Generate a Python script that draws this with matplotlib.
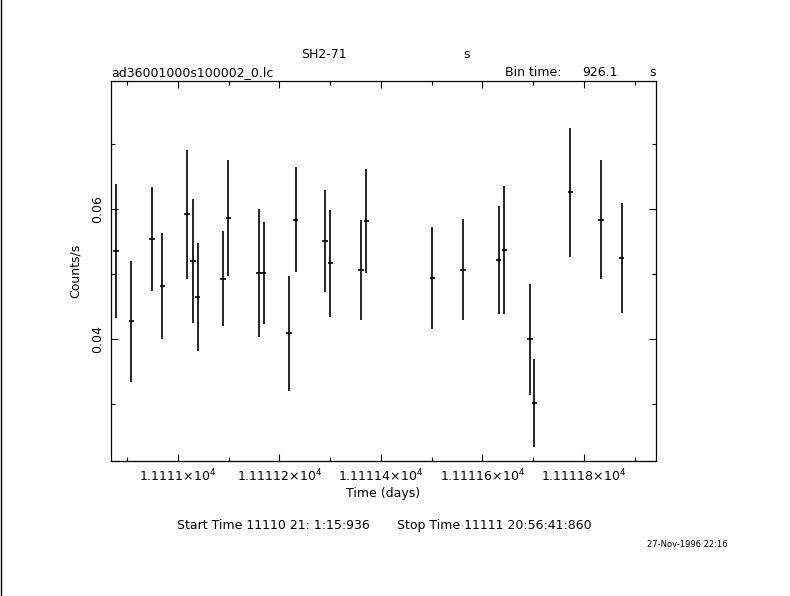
import matplotlib
matplotlib.use('Agg')
import matplotlib.pyplot as plt
from matplotlib.ticker import FixedLocator, MultipleLocator

# light curve values
time_days = [11110.878, 11110.908, 11110.949, 11110.969, 11111.018, 11111.030,
             11111.039, 11111.089, 11111.099, 11111.160, 11111.169, 11111.219,
             11111.232, 11111.290, 11111.300, 11111.361, 11111.371, 11111.501,
             11111.562, 11111.632, 11111.643, 11111.694, 11111.702, 11111.773,
             11111.834, 11111.874]
rate = [0.0536, 0.0428, 0.0554, 0.0482, 0.0592, 0.0520, 0.0465, 0.0493,
        0.0587, 0.0502, 0.0502, 0.0409, 0.0584, 0.0551, 0.0517, 0.0507,
        0.0582, 0.0494, 0.0507, 0.0522, 0.0537, 0.0400, 0.0302, 0.0626,
        0.0584, 0.0525]
rate_err = [0.0103, 0.0093, 0.0080, 0.0082, 0.0099, 0.0095, 0.0083, 0.0073,
            0.0089, 0.0098, 0.0079, 0.0088, 0.0081, 0.0078, 0.0082, 0.0077,
            0.0080, 0.0078, 0.0078, 0.0083, 0.0098, 0.0085, 0.0068, 0.0099,
            0.0092, 0.0084]
bin_time = 926.1  # seconds

xticks = [11111.0, 11111.2, 11111.4, 11111.6, 11111.8]
xtick_labels = ['1.1111×10$^{4}$', '1.11112×10$^{4}$', '1.11114×10$^{4}$',
                '1.11116×10$^{4}$', '1.11118×10$^{4}$']
yticks = [0.04, 0.06]
ytick_labels = ['0.04', '0.06']

plt.rcParams['font.family'] = ['DejaVu Sans']
fs = 9

fig = plt.figure(figsize=(7.9, 5.96), dpi=100)
ax = fig.add_axes([0.1405, 0.2265, 0.6899, 0.6376])

half_bin = bin_time / 86400.0 / 2
ax.errorbar(time_days, rate, yerr=rate_err, xerr=half_bin, fmt='none',
            ecolor='black', elinewidth=1.2, capsize=0)

ax.set_xlim(11110.868, 11111.942)
ax.set_ylim(0.0213, 0.0797)

ax.xaxis.set_major_locator(FixedLocator(xticks))
ax.set_xticklabels(xtick_labels)
ax.xaxis.set_minor_locator(MultipleLocator(0.1))
ax.yaxis.set_major_locator(FixedLocator(yticks))
ax.set_yticklabels(ytick_labels, rotation=90, va='center')
ax.yaxis.set_minor_locator(MultipleLocator(0.01))

ax.tick_params(which='both', direction='in', top=True, right=True,
               labelsize=fs, width=0.8)
ax.tick_params(which='major', length=5, pad=5)
ax.tick_params(which='minor', length=3)
for s in ax.spines.values():
    s.set_linewidth(0.9)

ax.set_xlabel('Time (days)', fontsize=fs, labelpad=2)
ax.set_ylabel('Counts/s', fontsize=fs, labelpad=7)

fig.text(0.410, 0.909, 'SH2-71', ha='center', va='center', fontsize=fs)
fig.text(0.590, 0.909, 's', ha='center', va='center', fontsize=fs)
fig.text(0.1405, 0.879, 'ad36001000s100002_0.lc', ha='left', va='center', fontsize=fs)
fig.text(0.639, 0.879, 'Bin time:', ha='left', va='center', fontsize=fs)
fig.text(0.782, 0.879, '926.1', ha='right', va='center', fontsize=fs)
fig.text(0.830, 0.879, 's', ha='right', va='center', fontsize=fs)
fig.text(0.224, 0.118, 'Start Time 11110 21: 1:15:936', ha='left', va='center', fontsize=fs)
fig.text(0.503, 0.118, 'Stop Time 11111 20:56:41:860', ha='left', va='center', fontsize=fs)
fig.text(0.819, 0.087, '27-Nov-1996 22:16', ha='left', va='center', fontsize=6)

# thin frame line along the left edge of the image
fig.add_artist(plt.Line2D([0.0007, 0.0007], [0, 1], color='black', lw=1,
                          transform=fig.transFigure))

fig.savefig('out.png', dpi=100, facecolor='white')
